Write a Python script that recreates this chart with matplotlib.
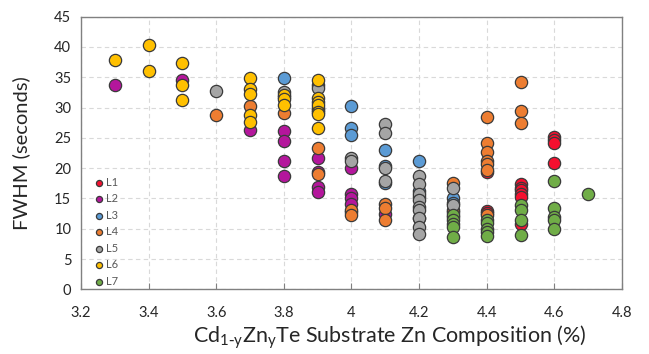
import matplotlib
matplotlib.use('Agg')
import matplotlib.pyplot as plt

plt.rcParams['font.family'] = ['Lato', 'DejaVu Sans']
plt.rcParams['mathtext.default'] = 'regular'

# data (x = Zn composition %, y = FWHM seconds)
l1_x = [4.2, 4.3, 4.4, 4.4, 4.4, 4.5, 4.5, 4.5, 4.5, 4.5, 4.5, 4.6, 4.6, 4.6, 4.6]
l1_y = [11.8, 13.1, 19.3, 13.0, 12.6, 17.3, 16.8, 16.4, 15.8, 15.2, 10.8, 25.2, 24.6, 24.2, 20.9]

l2_x = [3.3, 3.5, 3.7, 3.8, 3.8, 3.8, 3.8, 3.9, 3.9, 3.9, 3.9, 4.0, 4.0, 4.0, 4.0, 4.0, 4.1]
l2_y = [33.8, 34.5, 26.3, 26.2, 24.4, 21.2, 18.7, 21.6, 19.4, 16.9, 16.1, 20.1, 15.8, 15.0, 14.0, 12.8, 12.4]

l3_x = [3.8, 4.0, 4.0, 4.0, 4.1, 4.1, 4.1, 4.2, 4.2, 4.2, 4.3, 4.3]
l3_y = [34.9, 30.2, 26.6, 25.5, 23.0, 20.3, 17.5, 21.2, 16.2, 15.2, 15.0, 14.3]

l4_x = [3.6, 3.7, 3.8, 3.9, 3.9, 3.9, 4.0, 4.0, 4.1, 4.1, 4.1, 4.3, 4.3, 4.3,
        4.4, 4.4, 4.4, 4.4, 4.4, 4.4, 4.4, 4.5, 4.5, 4.5]
l4_y = [28.8, 30.2, 29.1, 29.6, 23.4, 19.0, 13.1, 12.3, 14.0, 13.4, 11.4, 17.6, 12.7, 12.0,
        28.4, 24.1, 22.6, 21.1, 20.7, 19.7, 12.3, 34.2, 29.4, 27.4]

l5_x = [3.6, 3.8, 3.8, 3.9, 3.9, 3.9, 4.0, 4.0, 4.1, 4.1, 4.1, 4.1,
        4.2, 4.2, 4.2, 4.2, 4.2, 4.2, 4.2, 4.2, 4.2, 4.3, 4.3]
l5_y = [32.7, 32.6, 31.8, 33.7, 33.2, 30.0, 21.6, 21.2, 27.3, 25.8, 20.0, 17.8,
        18.7, 17.3, 15.8, 14.7, 13.6, 13.1, 11.8, 10.3, 9.1, 16.8, 13.9]

l6_x = [3.3, 3.4, 3.4, 3.5, 3.5, 3.5, 3.7, 3.7, 3.7, 3.7, 3.7, 3.8, 3.8, 3.8,
        3.9, 3.9, 3.9, 3.9, 3.9, 3.9, 3.9]
l6_y = [37.8, 40.3, 36.0, 37.4, 33.7, 31.2, 34.9, 33.0, 32.3, 28.7, 27.6, 32.1, 31.4, 30.5,
        34.5, 31.5, 31.0, 30.4, 29.3, 29.0, 26.6]

l7_x = [4.3, 4.3, 4.3, 4.3, 4.3, 4.4, 4.4, 4.4, 4.4, 4.4, 4.5, 4.5, 4.5, 4.5,
        4.6, 4.6, 4.6, 4.6, 4.6, 4.7]
l7_y = [12.3, 11.4, 10.8, 10.3, 8.7, 11.4, 10.9, 9.9, 9.5, 8.8, 13.9, 13.1, 11.4, 8.9,
        17.9, 13.5, 11.9, 11.4, 9.9, 15.7]

series = [('L1', l1_x, l1_y, '#f5102f'),
          ('L2', l2_x, l2_y, '#b4169c'),
          ('L3', l3_x, l3_y, '#5b9bd5'),
          ('L4', l4_x, l4_y, '#ed7d31'),
          ('L5', l5_x, l5_y, '#a5a5a5'),
          ('L6', l6_x, l6_y, '#ffc000'),
          ('L7', l7_x, l7_y, '#70ad47')]

fig = plt.figure(figsize=(6.49, 3.54), dpi=100)
ax = fig.add_axes([0.1248, 0.1828, 0.8336, 0.77])

for name, xs, ys, c in series:
    ax.scatter(xs, ys, s=78, c=c, edgecolors='#3a3a3a', linewidths=0.9, label=name, zorder=3)

ax.set_xlim(3.2, 4.8)
ax.set_ylim(0, 45)
ax.set_xticks([3.2, 3.4, 3.6, 3.8, 4.0, 4.2, 4.4, 4.6, 4.8])
ax.set_xticklabels(['3.2', '3.4', '3.6', '3.8', '4', '4.2', '4.4', '4.6', '4.8'])
ax.set_yticks(range(0, 46, 5))

ax.grid(True, color='#d9d9d9', linestyle=(0, (4, 3)), linewidth=0.8, zorder=0)
ax.set_axisbelow(True)
for s in ax.spines.values():
    s.set_color('#808080')
    s.set_linewidth(1.0)
ax.tick_params(axis='x', direction='in', length=4, color='#808080', labelsize=10.5,
               labelcolor='#262626', pad=12)
ax.tick_params(axis='y', length=0, labelsize=10.5, labelcolor='#262626', pad=7)

ax.set_ylabel('FWHM (seconds)', fontsize=14.5, color='#262626')
ax.yaxis.set_label_coords(-0.094, 0.5)
ax.set_xlabel(r'Cd$_{1\text{-}y}$Zn$_{y}$Te Substrate Zn Composition (%)', fontsize=15.5,
              color='#262626')
ax.xaxis.set_label_coords(0.571, -0.125)

leg = ax.legend(loc='upper left', bbox_to_anchor=(0.013, 0.43), frameon=False,
                fontsize=8, markerscale=0.5, handletextpad=0.05, labelspacing=0.5,
                borderaxespad=0, handlelength=1.2)
for t in leg.get_texts():
    t.set_color('#595959')

fig.savefig('out.png', dpi=100)
